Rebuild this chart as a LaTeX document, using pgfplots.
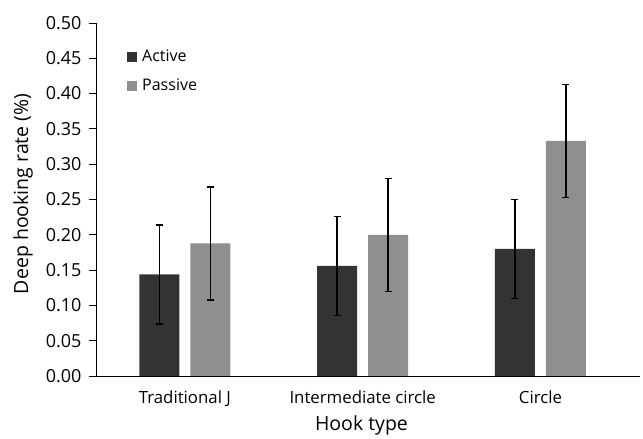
\documentclass[border=0pt]{standalone}
\usepackage{pgfplots}
\pgfplotsset{compat=1.18}
\usepackage{fontspec}
\setmainfont{Open Sans}
\definecolor{cact}{HTML}{333333}
\definecolor{cpas}{HTML}{8F8F8F}
\begin{document}
\begin{tikzpicture}[x=1pt,y=1pt]
\useasboundingbox (0,0) rectangle (643,439);
\begin{axis}[
  at={(96pt,63pt)}, anchor=south west,
  scale only axis, width=544pt, height=353pt,
  ybar=11pt, bar width=40pt,
  xmin=-0.5, xmax=2.56,
  ymin=0, ymax=0.5,
  ytick={0,0.05,...,0.5},
  xtick={0,1,2},
  xticklabels={Traditional J, Intermediate circle, Circle},
  axis x line*=bottom, axis y line*=left,
  x axis line style={-, line width=0.8pt},
  y axis line style={-, line width=0.8pt},
  x tick style={draw=none},
  y tick style={line width=0.8pt, black},
  tick align=outside, major tick length=7pt,
  /pgf/number format/.cd, fixed, fixed zerofill, precision=2, assume math mode=true,
  /pgfplots/.cd,
  xticklabel style={yshift=-4pt, font=\fontsize{16.8}{20}\selectfont},
  yticklabel style={xshift=-4pt, font=\fontsize{18}{20}\selectfont},
  ylabel={Deep hooking rate (\%)},
  xlabel={Hook type},
  label style={font=\fontsize{19.5}{22}\selectfont},
  ylabel style={at={(axis description cs:-0.134,0.516)}, anchor=center},
  xlabel style={at={(axis description cs:0.488,-0.139)}, anchor=center},
  legend style={at={(axis description cs:0.057,0.93)}, anchor=north west, draw=none, fill=none,
    font=\fontsize{16}{19}\selectfont, row sep=12pt, inner sep=0pt},
  legend cell align=left,
  legend image code/.code={\fill[#1] (0pt,-5pt) rectangle (10pt,5pt); \path (13pt,0pt);},
  error bars/y dir=both, error bars/y explicit,
  error bars/error bar style={line width=1.5pt, black},
  error bars/error mark options={rotate=90, mark size=3.5pt, line width=1.5pt, black},
]
\addplot[fill=cact, draw=none] coordinates {
  (0,0.144) +- (0,0.070)
  (1,0.156) +- (0,0.070)
  (2,0.180) +- (0,0.070)
};
\addplot[fill=cpas, draw=none] coordinates {
  (0,0.188) +- (0,0.080)
  (1,0.200) +- (0,0.080)
  (2,0.333) +- (0,0.080)
};
\legend{Active, Passive}
\end{axis}
\end{tikzpicture}
\end{document}
